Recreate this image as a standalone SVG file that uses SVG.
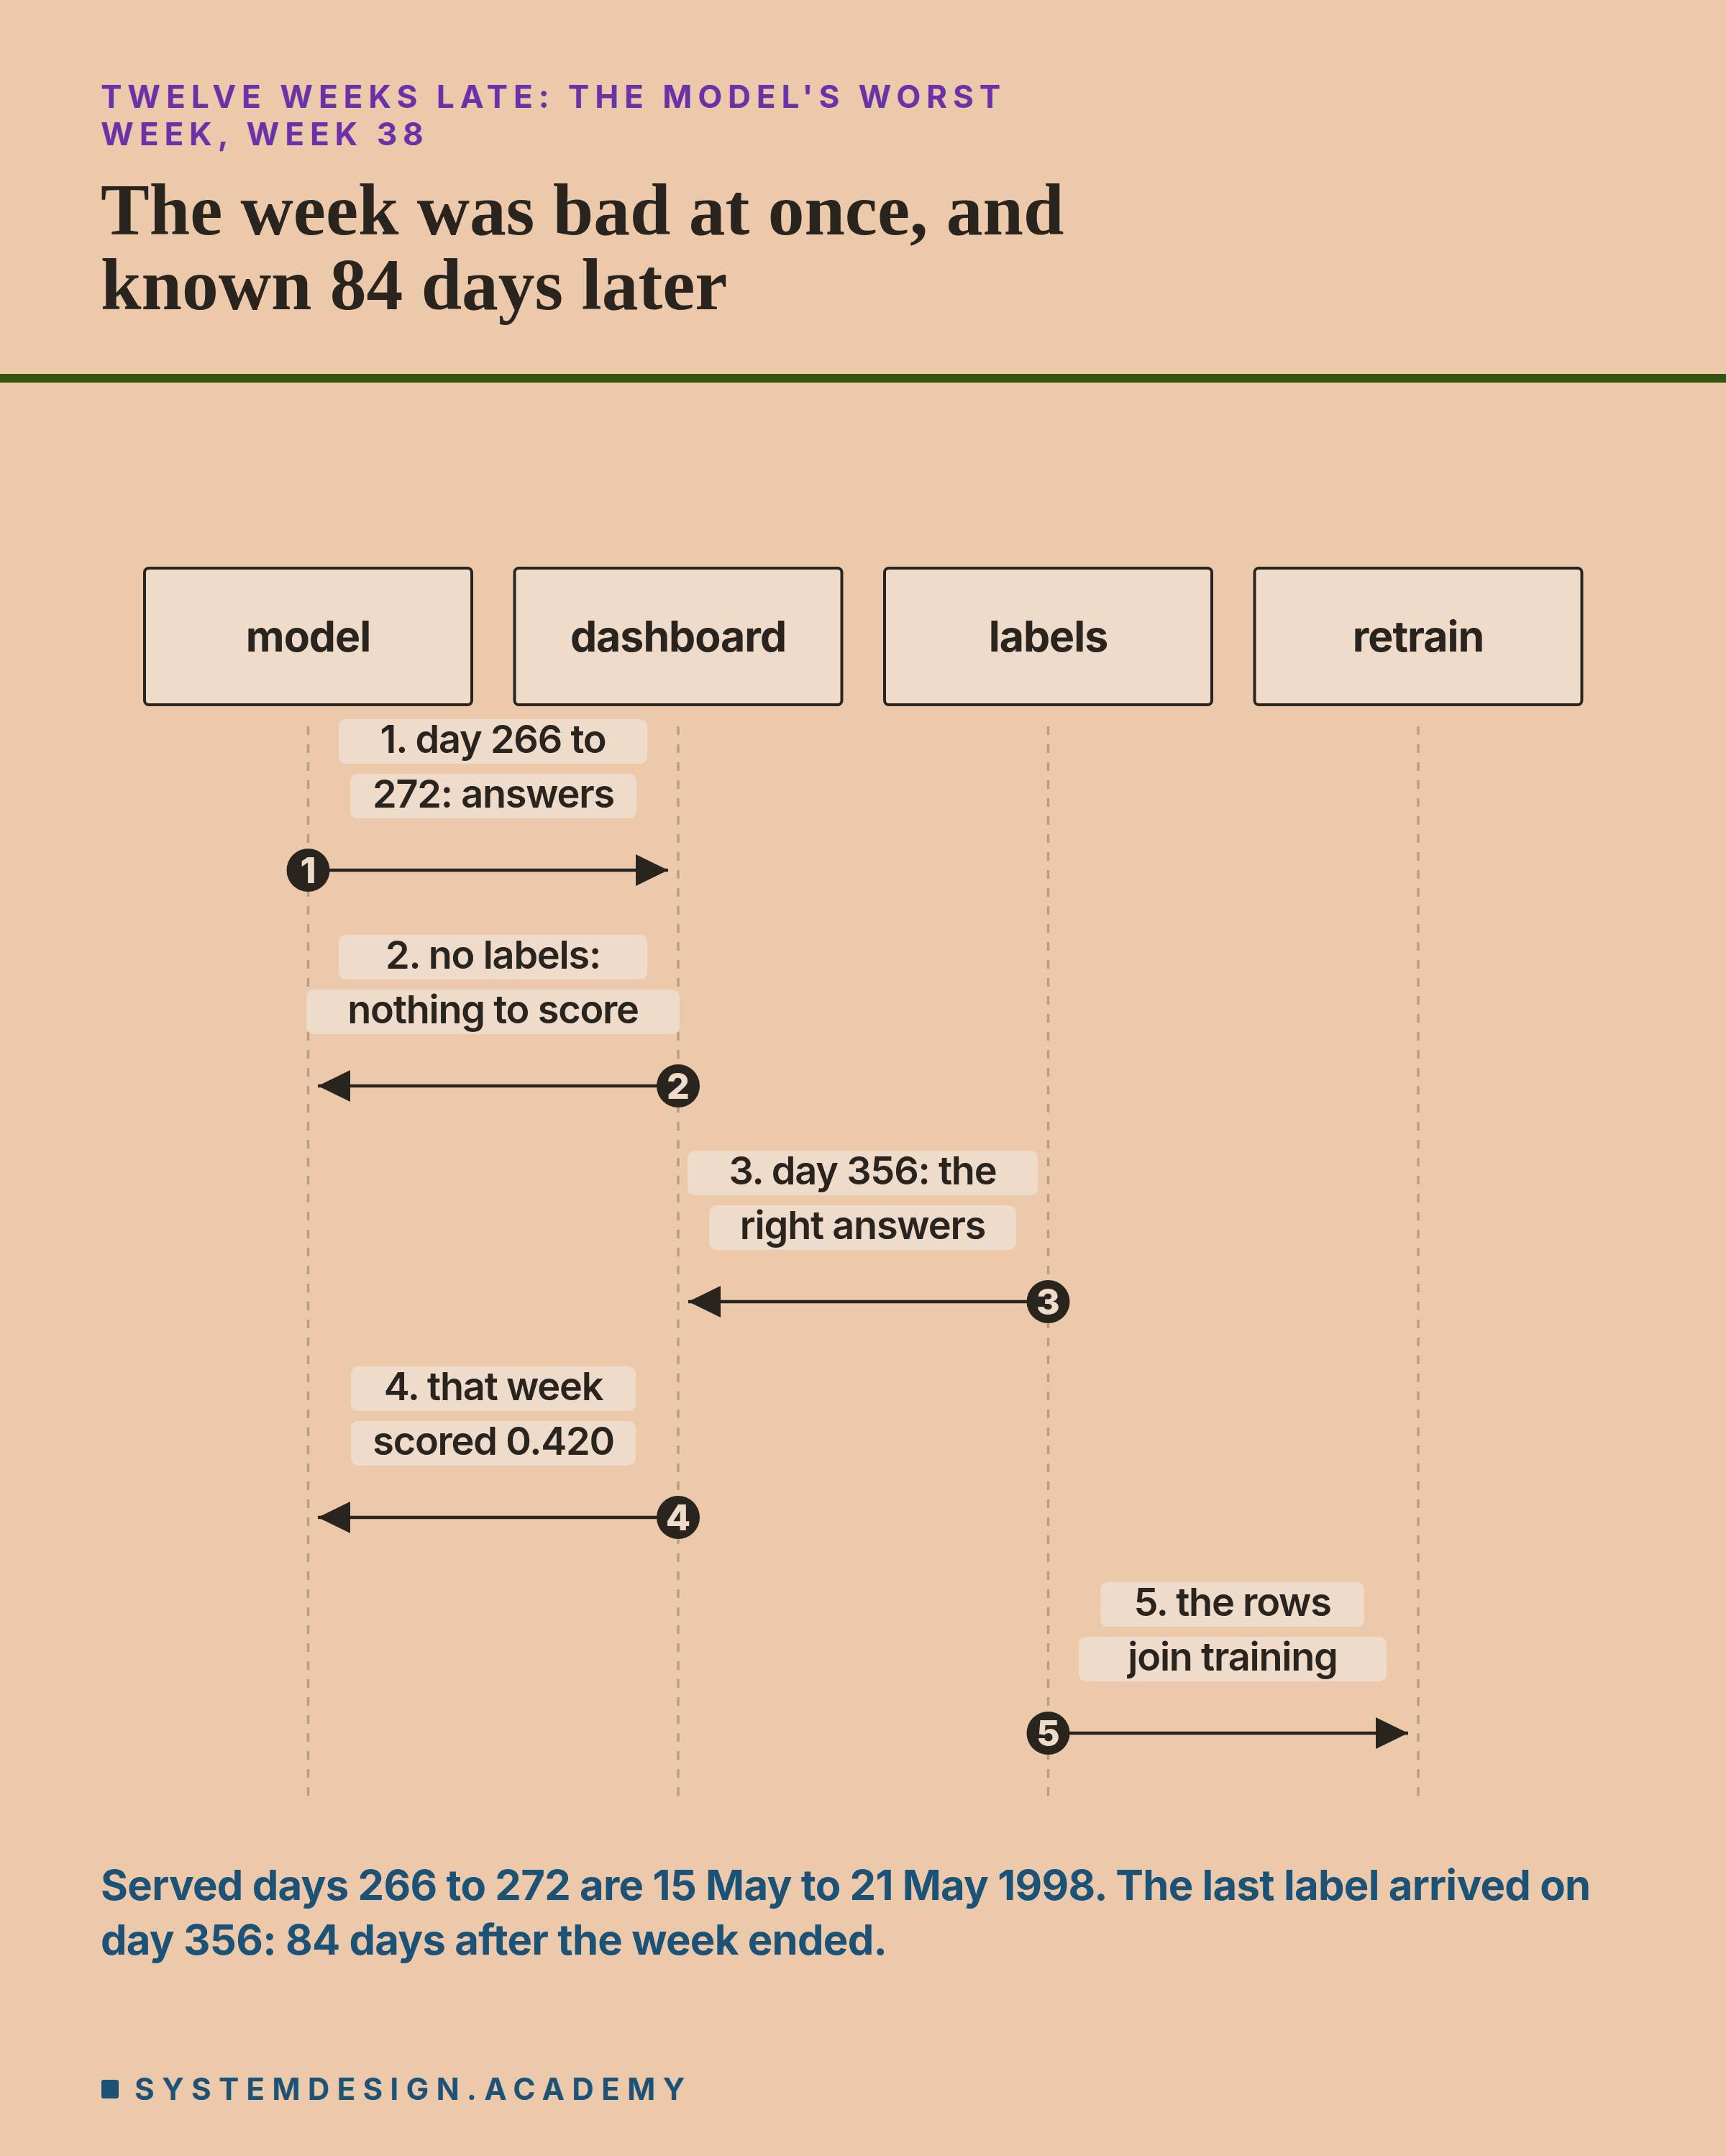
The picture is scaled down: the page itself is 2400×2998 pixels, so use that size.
<svg xmlns="http://www.w3.org/2000/svg" width="2400" height="2998" viewBox="0 0 2400 2998">
<style>
.bg{fill:#EDC9AB}
.kicker{font-family:Inter,"Liberation Sans",sans-serif;font-weight:700;font-size:44px;letter-spacing:8px;fill:#6A32A6}
.title{font-family:"Liberation Serif",serif;font-weight:700;font-size:101.5px;fill:#2A241E}
.box{fill:#EEDBCA;stroke:#2A241E;stroke-width:4}
.nodetxt{font-family:Inter,"Liberation Sans",sans-serif;font-weight:700;font-size:59px;fill:#2A241E;text-anchor:middle;letter-spacing:-1px}
.life{stroke:#B89E89;stroke-width:3.5;stroke-dasharray:12 13;fill:none}
.pill{fill:#EEDBCA}
.lbl{font-family:Inter,"Liberation Sans",sans-serif;font-weight:600;font-size:54px;fill:#2A241E;text-anchor:middle;letter-spacing:-1.2px}
.msg{stroke:#2A241E;stroke-width:4.5;fill:none;marker-end:url(#ah)}
.dot{fill:#2A241E}
.num{font-family:Inter,"Liberation Sans",sans-serif;font-weight:800;font-size:50px;fill:#EEDBCA;text-anchor:middle}
.cap{font-family:Inter,"Liberation Sans",sans-serif;font-weight:700;font-size:58px;fill:#1D5277;letter-spacing:-0.7px}
.foot{font-family:Inter,"Liberation Sans",sans-serif;font-weight:700;font-size:42px;fill:#1D5277;letter-spacing:10.4px}
</style>
<defs>
<marker id="ah" markerUnits="userSpaceOnUse" markerWidth="46" markerHeight="46" refX="45" refY="22" orient="auto">
<path d="M0,0 L45,22 L0,44 Z" fill="#2A241E"/>
</marker>
</defs>
<rect class="bg" x="0" y="0" width="2400" height="2998"/>
<g id="header">
<text class="kicker" x="140" y="150">TWELVE WEEKS LATE: THE MODEL'S WORST</text>
<text class="kicker" x="140" y="202">WEEK, WEEK 38</text>
<text class="title" x="140" y="326">The week was bad at once, and</text>
<text class="title" x="140" y="430">known 84 days later</text>
<rect x="0" y="520" width="2400" height="12" fill="#34530F"/>
</g>
<g id="lifelines">
<line class="life" x1="428.5" y1="1010" x2="428.5" y2="2497"/>
<line class="life" x1="943" y1="1010" x2="943" y2="2497"/>
<line class="life" x1="1457.5" y1="1010" x2="1457.5" y2="2497"/>
<line class="life" x1="1972" y1="1010" x2="1972" y2="2497"/>
</g>
<g id="node-model"><rect class="box" x="201" y="790" width="455" height="190" rx="6"/><text class="nodetxt" x="428.5" y="906">model</text></g>
<g id="node-dashboard"><rect class="box" x="715.5" y="790" width="455" height="190" rx="6"/><text class="nodetxt" x="943" y="906">dashboard</text></g>
<g id="node-labels"><rect class="box" x="1230" y="790" width="455" height="190" rx="6"/><text class="nodetxt" x="1457.5" y="906">labels</text></g>
<g id="node-retrain"><rect class="box" x="1744.5" y="790" width="455" height="190" rx="6"/><text class="nodetxt" x="1972" y="906">retrain</text></g>
<g id="connectors">
<g id="msg1">
<rect class="pill" x="471" y="1000" width="429" height="62" rx="10"/>
<text class="lbl" x="685.5" y="1047">1. day 266 to</text>
<rect class="pill" x="487" y="1076" width="398" height="62" rx="10"/>
<text class="lbl" x="686" y="1123">272: answers</text>
<line class="msg" x1="428.5" y1="1210" x2="929" y2="1210"/>
<circle class="dot" cx="428.5" cy="1210" r="30"/>
<text class="num" x="428.5" y="1228">1</text>
</g>
<g id="msg2">
<rect class="pill" x="471" y="1300" width="429" height="62" rx="10"/>
<text class="lbl" x="685.5" y="1347">2. no labels:</text>
<rect class="pill" x="426" y="1376" width="519" height="62" rx="10"/>
<text class="lbl" x="685.5" y="1423">nothing to score</text>
<line class="msg" x1="943" y1="1510" x2="442" y2="1510"/>
<circle class="dot" cx="943" cy="1510" r="30"/>
<text class="num" x="943" y="1528">2</text>
</g>
<g id="msg3">
<rect class="pill" x="956" y="1600" width="487" height="62" rx="10"/>
<text class="lbl" x="1199.5" y="1647">3. day 356: the</text>
<rect class="pill" x="986" y="1676" width="427" height="62" rx="10"/>
<text class="lbl" x="1199.5" y="1723">right answers</text>
<line class="msg" x1="1457.5" y1="1810" x2="957" y2="1810"/>
<circle class="dot" cx="1457.5" cy="1810" r="30"/>
<text class="num" x="1457.5" y="1828">3</text>
</g>
<g id="msg4">
<rect class="pill" x="488" y="1900" width="396" height="62" rx="10"/>
<text class="lbl" x="686" y="1947">4. that week</text>
<rect class="pill" x="488" y="1976" width="396" height="62" rx="10"/>
<text class="lbl" x="686" y="2023">scored 0.420</text>
<line class="msg" x1="943" y1="2110" x2="442" y2="2110"/>
<circle class="dot" cx="943" cy="2110" r="30"/>
<text class="num" x="943" y="2128">4</text>
</g>
<g id="msg5">
<rect class="pill" x="1530" y="2200" width="367" height="62" rx="10"/>
<text class="lbl" x="1713.5" y="2247">5. the rows</text>
<rect class="pill" x="1500" y="2276" width="428" height="62" rx="10"/>
<text class="lbl" x="1714" y="2323">join training</text>
<line class="msg" x1="1457.5" y1="2410" x2="1958" y2="2410"/>
<circle class="dot" cx="1457.5" cy="2410" r="30"/>
<text class="num" x="1457.5" y="2428">5</text>
</g>
</g>
<g id="caption">
<text class="cap" x="140" y="2642">Served days 266 to 272 are 15 May to 21 May 1998. The last label arrived on</text>
<text class="cap" x="140" y="2718">day 356: 84 days after the week ended.</text>
</g>
<g id="footer">
<rect x="141" y="2892" width="24" height="26" rx="3" fill="#1D5277"/>
<text class="foot" x="187" y="2920">SYSTEMDESIGN.ACADEMY</text>
</g>
</svg>
